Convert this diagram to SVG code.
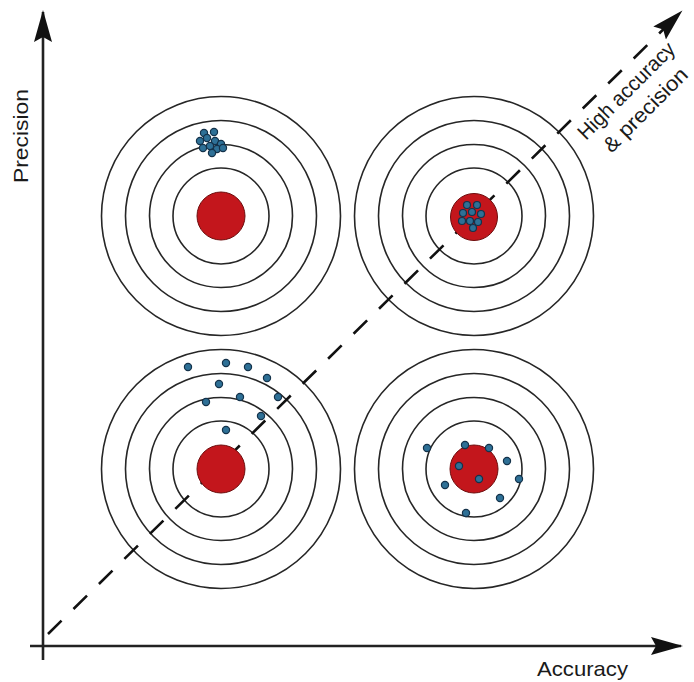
<svg xmlns="http://www.w3.org/2000/svg" width="694" height="682" viewBox="0 0 694 682">
  <style>
    .ring { fill: none; stroke: #262626; stroke-width: 1.6; }
    .bull { fill: #c3161c; stroke: #6e0d0d; stroke-width: 1; }
    .dot { fill: #2e7096; stroke: #14324a; stroke-width: 1.2; }
    .axis { fill: none; stroke: #222; stroke-width: 2.6; }
    .diag { fill: none; stroke: #111; stroke-width: 2.6; stroke-dasharray: 19 16.7; }
    .lbl { font-family: "Liberation Sans", Arial, sans-serif; font-size: 21px; fill: #1a1a1a; }
  </style>
  <defs>
    <marker id="ah" markerUnits="userSpaceOnUse" markerWidth="34" markerHeight="20" refX="30" refY="9" orient="auto">
      <path d="M0,0 L32,9 L0,18 L5,9 z" fill="#111"/>
    </marker>
    <g id="rings">
      <circle class="ring" r="48"/>
      <circle class="ring" r="71.5"/>
      <circle class="ring" r="95.5"/>
      <circle class="ring" r="119.5"/>
    </g>
  </defs>

  <g id="target-tl"><use href="#rings" x="221" y="216"/></g>
  <g id="target-tr"><use href="#rings" x="474" y="216"/></g>
  <g id="target-bl"><use href="#rings" x="221" y="469"/></g>
  <g id="target-br"><use href="#rings" x="474" y="469"/></g>

  <g id="connectors">
    <path id="y-axis" class="axis" d="M43,660 L43,12" marker-end="url(#ah)"/>
    <path id="x-axis" class="axis" d="M30,646 L681,646" marker-end="url(#ah)"/>
    <path id="diagonal" class="diag" d="M48,634 L681,12" marker-end="url(#ah)"/>
  </g>

  <g id="bulls">
    <circle class="bull" cx="221" cy="216" r="24"/>
    <circle class="bull" cx="474" cy="217" r="23.5"/>
    <circle class="bull" cx="221" cy="469" r="24"/>
    <circle class="bull" cx="474" cy="469" r="24"/>
  </g>

  <g id="shots-tl">
    <circle class="dot" cx="204" cy="133" r="3.6"/>
    <circle class="dot" cx="214" cy="132" r="3.6"/>
    <circle class="dot" cx="200" cy="141" r="3.6"/>
    <circle class="dot" cx="207" cy="138" r="3.6"/>
    <circle class="dot" cx="215" cy="141" r="3.6"/>
    <circle class="dot" cx="221" cy="144" r="3.6"/>
    <circle class="dot" cx="203" cy="148" r="3.6"/>
    <circle class="dot" cx="210" cy="146" r="3.6"/>
    <circle class="dot" cx="217" cy="149" r="3.6"/>
    <circle class="dot" cx="212" cy="153" r="3.6"/>
    <circle class="dot" cx="223" cy="148" r="3.6"/>
  </g>

  <g id="shots-tr">
    <circle class="dot" cx="467" cy="205" r="3.5"/>
    <circle class="dot" cx="477" cy="205" r="3.5"/>
    <circle class="dot" cx="463" cy="213" r="3.5"/>
    <circle class="dot" cx="472" cy="212" r="3.5"/>
    <circle class="dot" cx="481" cy="214" r="3.5"/>
    <circle class="dot" cx="462" cy="221" r="3.5"/>
    <circle class="dot" cx="470" cy="221" r="3.5"/>
    <circle class="dot" cx="478" cy="222" r="3.5"/>
    <circle class="dot" cx="473" cy="228" r="3.5"/>
  </g>

  <g id="shots-bl">
    <circle class="dot" cx="188" cy="367" r="3.6"/>
    <circle class="dot" cx="226" cy="363" r="3.6"/>
    <circle class="dot" cx="248" cy="367" r="3.6"/>
    <circle class="dot" cx="267" cy="378" r="3.6"/>
    <circle class="dot" cx="219" cy="384" r="3.6"/>
    <circle class="dot" cx="240" cy="397" r="3.6"/>
    <circle class="dot" cx="278" cy="397" r="3.6"/>
    <circle class="dot" cx="206" cy="402" r="3.6"/>
    <circle class="dot" cx="261" cy="416" r="3.6"/>
    <circle class="dot" cx="226" cy="430" r="3.6"/>
  </g>

  <g id="shots-br">
    <circle class="dot" cx="427" cy="448" r="3.6"/>
    <circle class="dot" cx="465" cy="445" r="3.6"/>
    <circle class="dot" cx="489" cy="448" r="3.6"/>
    <circle class="dot" cx="507" cy="461" r="3.6"/>
    <circle class="dot" cx="459" cy="466" r="3.6"/>
    <circle class="dot" cx="479" cy="479" r="3.6"/>
    <circle class="dot" cx="519" cy="479" r="3.6"/>
    <circle class="dot" cx="445" cy="485" r="3.6"/>
    <circle class="dot" cx="500" cy="498" r="3.6"/>
    <circle class="dot" cx="466" cy="513" r="3.6"/>
  </g>

  <g id="label-precision">
    <text class="lbl" transform="translate(28,183) rotate(-90)" textLength="94" lengthAdjust="spacingAndGlyphs">Precision</text>
  </g>
  <g id="label-accuracy">
    <text class="lbl" x="537" y="676" textLength="91" lengthAdjust="spacingAndGlyphs">Accuracy</text>
  </g>
  <g id="label-diagonal" transform="translate(586,141) rotate(-45)">
    <text class="lbl" x="64" y="0" text-anchor="middle" textLength="128" lengthAdjust="spacingAndGlyphs">High accuracy</text>
    <text class="lbl" x="64" y="27" text-anchor="middle" textLength="110" lengthAdjust="spacingAndGlyphs">&amp; precision</text>
  </g>
</svg>
